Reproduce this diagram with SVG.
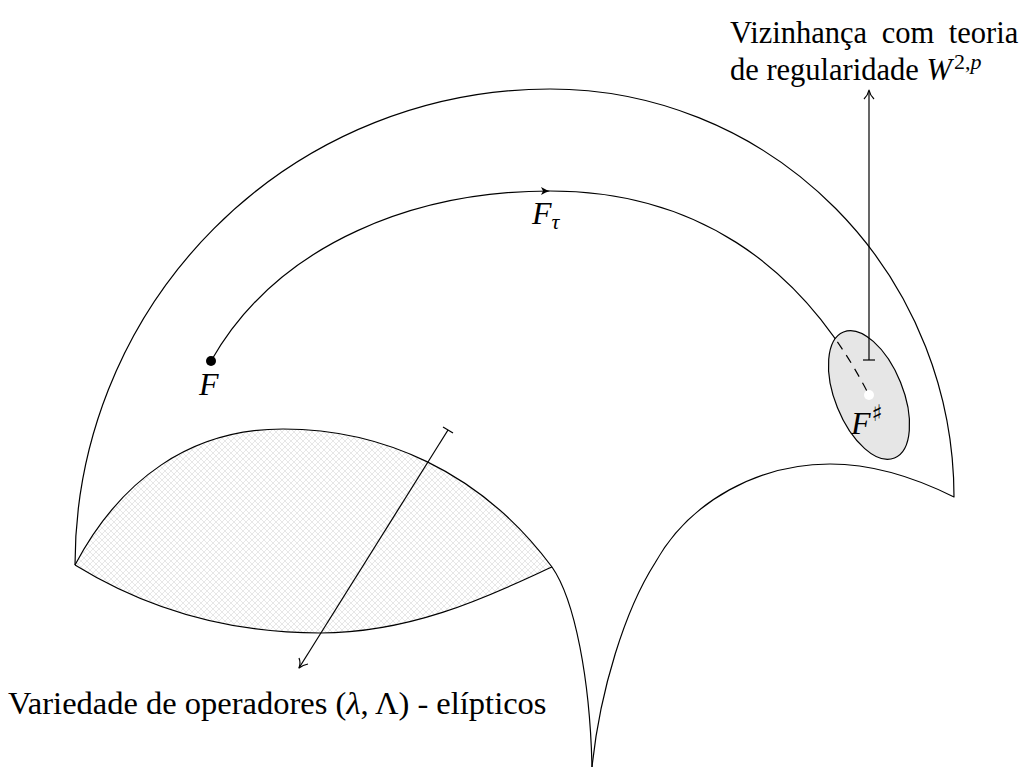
<svg xmlns="http://www.w3.org/2000/svg" width="1029" height="769" viewBox="0 0 1029 769">
<style>
.ln{fill:none;stroke:#000;stroke-width:1.2;stroke-linejoin:round}
.txt{font-family:"Liberation Serif","Times New Roman",serif;font-size:32.5px;fill:#000}
.top{font-family:"Liberation Serif","Times New Roman",serif;font-size:30.5px;fill:#000}
.math{font-family:"Liberation Serif","Times New Roman",serif;font-style:italic;font-size:32px;fill:#000}
.sym{font-family:"DejaVu Sans","DejaVu Serif",sans-serif;font-style:normal}
</style>
<defs>
<pattern id="hatch" width="6" height="6" patternUnits="userSpaceOnUse">
<rect width="6" height="6" fill="#fff"/>
<path d="M0,0 L6,6 M6,0 L0,6" stroke="#d6d6d6" stroke-width="0.6"/>
</pattern>
<clipPath id="ellclip"><ellipse cx="0" cy="0" rx="68" ry="34" transform="translate(869,395) rotate(68)"/></clipPath>
</defs>
<rect width="1029" height="769" fill="#fff"/>

<g id="lens">
<path d="M75,565 C120,480 190,429 283,429 C380,429 480,470 552,567 C505,588 420,633 320,633 C220,633 140,605 75,565 Z" fill="url(#hatch)" stroke="none"/>
<path class="ln" d="M552,567 C505,588 420,633 320,633 C220,633 140,605 75,565"/>
</g>

<g id="region">
<path class="ln" d="M75,565 A475,476 0 0 1 550,89 A404,408 0 0 1 954,497 C910,475 870,464 830,464 C760,464 690,500 655,563 C625,610 600,690 592,767"/>
<path class="ln" d="M75,565 C120,480 190,429 283,429 C380,429 480,470 552,567 C575,600 590,680 592,767"/>
</g>

<g id="flow">
<path class="ln" d="M211,361 C280,240 420,191 550,191 C690,191 800,260 869,395"/>
<path d="M541,187 Q546,190 550,191 Q546,192 541,195 L543,191 Z" fill="#000"/>
</g>

<g id="neighbourhood">
<ellipse cx="0" cy="0" rx="68" ry="34" transform="translate(869,395) rotate(68)" fill="#e6e6e6" stroke="#000" stroke-width="1.2"/>
<path class="ln" d="M211,361 C280,240 420,191 550,191 C690,191 800,260 869,395" stroke-dasharray="9,7" clip-path="url(#ellclip)"/>
<circle cx="869" cy="395" r="5" fill="#fff"/>
<text class="math" x="851" y="434">F<tspan class="sym" font-size="23" dx="1" dy="-13">♯</tspan></text>
</g>

<g id="pointF">
<circle cx="211" cy="361" r="5" fill="#000"/>
<text class="math" x="199" y="395">F</text>
</g>

<g id="labelFtau">
<text class="math" x="532" y="224">F<tspan font-size="22" dy="5">τ</tspan></text>
</g>

<g id="connectors">
<path class="ln" d="M869,360 L869,91"/>
<path class="ln" d="M863,360 L875,360"/>
<path class="ln" d="M864,99 Q868,95 869,90 Q870,95 874,99"/>
<path class="ln" d="M448,430 L299,668"/>
<path class="ln" d="M443,427 L453,433"/>
<path class="ln" d="M299,658 Q301,663 299,668 Q303,665 308,664"/>
</g>

<g id="labelTop">
<text class="top" x="730" y="43" word-spacing="7">Vizinhança com teoria</text>
<text class="top" x="730" y="80">de regularidade <tspan font-style="italic">W</tspan><tspan font-size="22" dx="2" dy="-11">2,<tspan font-style="italic">p</tspan></tspan></text>
</g>

<g id="labelBottom">
<text class="txt" x="8" y="714">Variedade de operadores (<tspan font-style="italic">λ</tspan>, Λ) - elípticos</text>
</g>
</svg>
